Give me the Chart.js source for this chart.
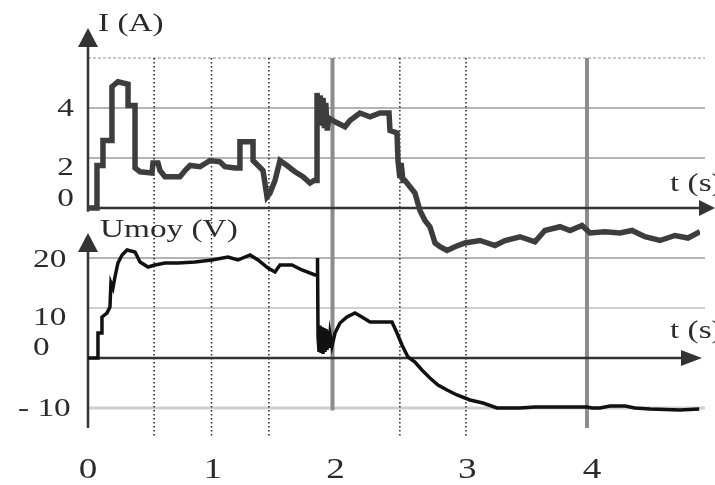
<!DOCTYPE html>
<html>
<head>
<meta charset="utf-8">
<script src="https://cdn.jsdelivr.net/npm/chart.js@4.4.1/dist/chart.umd.min.js"></script>
<style>
  html, body { margin: 0; padding: 0; background: #fff; }
  #wrap { width: 715px; height: 485px; }
</style>
</head>
<body>
<div id="wrap"><canvas id="chart" width="715" height="485"></canvas></div>
<script>
// current I (A) against t (s)
const tI = [0, 0.072, 0.072, 0.12, 0.12, 0.192, 0.192, 0.24, 0.321, 0.321, 0.377, 0.377, 0.417, 0.513, 0.521, 0.561,
  0.577, 0.617, 0.737, 0.778, 0.818, 0.898, 0.978, 1.058, 1.098, 1.178, 1.218, 1.218, 1.323, 1.323, 1.363, 1.403,
  1.435, 1.459, 1.499, 1.539, 1.595, 1.659, 1.723, 1.78, 1.812, 1.836, 1.836, 1.852, 1.862, 1.874, 1.884, 1.896,
  1.906, 1.918, 1.93, 1.98, 2.06, 2.1, 2.18, 2.261, 2.341, 2.413, 2.421, 2.477, 2.485, 2.5, 2.51, 2.525, 2.541,
  2.581, 2.621, 2.661, 2.701, 2.741, 2.782, 2.822, 2.878, 2.942, 3.022, 3.142, 3.263, 3.343, 3.463, 3.583,
  3.663, 3.784, 3.864, 3.96, 4.024, 4.144, 4.265, 4.361, 4.465, 4.585, 4.705, 4.81, 4.906];
const iVals = [0, 0, 1.7, 1.7, 2.7, 2.7, 4.85, 5.05, 4.95, 4.1, 4.1, 1.6, 1.45, 1.4, 1.8, 1.8,
  1.5, 1.25, 1.25, 1.5, 1.7, 1.65, 1.9, 1.85, 1.65, 1.6, 1.6, 2.65, 2.65, 1.9, 1.7, 1.5,
  0.45, 0.6, 1.1, 1.9, 1.7, 1.45, 1.25, 1.0, 1.1, 1.1, 4.6, 3.4, 4.5, 3.3, 4.4, 3.2,
  4.2, 3.1, 3.6, 3.45, 3.25, 3.5, 3.8, 3.65, 3.8, 3.8, 3.1, 3.0, 1.9, 1.2, 1.8, 1.1, 1.1,
  0.85, 0.6, -0.1, -0.5, -0.75, -1.4, -1.55, -1.7, -1.55, -1.4, -1.3, -1.5, -1.3, -1.15, -1.35,
  -0.9, -0.75, -0.9, -0.7, -1.0, -0.95, -1.0, -0.9, -1.15, -1.3, -1.1, -1.2, -0.95];

// mean voltage Umoy (V) against t (s)
const tU = [0, 0.08, 0.08, 0.112, 0.112, 0.152, 0.176, 0.184, 0.2, 0.216, 0.24, 0.273, 0.313, 0.377, 0.417,
  0.481, 0.537, 0.617, 0.721, 0.858, 0.994, 1.122, 1.202, 1.299, 1.363, 1.443, 1.499, 1.539, 1.635, 1.715,
  1.82, 1.836, 1.84, 1.844, 1.852, 1.86, 1.868, 1.876, 1.884, 1.892, 1.9, 1.908, 1.916, 1.924, 1.932, 1.94,
  1.956, 1.98, 2.02, 2.076, 2.14, 2.196, 2.261, 2.437, 2.477, 2.517, 2.565, 2.621, 2.677, 2.741, 2.806,
  2.878, 2.958, 3.062, 3.166, 3.279, 3.463, 3.583, 3.904, 4.0, 4.04, 4.104, 4.184, 4.305, 4.385, 4.505,
  4.746, 4.9];
const uVals = [0, 0, 5, 5, 8.2, 9, 10.2, 15, 14, 16.2, 19, 20.6, 21.6, 21.2, 19.2,
  18.2, 18.6, 19, 19, 19.2, 19.6, 20.2, 19.6, 20.6, 19.6, 18, 17.2, 18.6, 18.6, 17.6,
  16.6, 16.6, 20, 4.2, 1.2, 6.5, 1.0, 6.2, 0.8, 6, 1.2, 5.8, 1.6, 5.5, 2.0, 4.8,
  2.4, 5, 7, 8.2, 9, 8.2, 7.2, 7.2, 5, 2.6, 0.2, -0.8, -2.4, -4, -5.4,
  -6.4, -7.4, -8.4, -9, -10, -10, -9.8, -9.8, -9.8, -10, -10, -9.6, -9.6, -10, -10.2,
  -10.4, -10.2];

const tTicks = [0, 1, 2, 3, 4];
const iTicks = [4, 2, 0];
const uTicks = [20, 10, 0, -10];
const iGrid = [6, 4, 2];
const uGrid = [20, 10, -10];
const dottedT = [0.53, 0.99, 1.45, 2.5, 3.03];
const thickT = [1.96, 4.0];

const serif = '"Liberation Serif", "DejaVu Serif", serif';
const ink = '#2b2b2b';
const stretch = 1.28; // the scanned lettering is wider than the font

function arrow(ctx, tipX, tipY, dir, len, half) {
  ctx.beginPath();
  if (dir === 'up') {
    ctx.moveTo(tipX, tipY);
    ctx.lineTo(tipX - half, tipY + len);
    ctx.lineTo(tipX + half, tipY + len);
  } else {
    ctx.moveTo(tipX, tipY);
    ctx.lineTo(tipX - len, tipY - half);
    ctx.lineTo(tipX - len, tipY + half);
  }
  ctx.closePath();
  ctx.fill();
}

function hline(ctx, y, x0, x1) {
  ctx.beginPath();
  ctx.moveTo(x0, y);
  ctx.lineTo(x1, y);
  ctx.stroke();
}

function vline(ctx, x, y0, y1) {
  ctx.beginPath();
  ctx.moveTo(x, y0);
  ctx.lineTo(x, y1);
  ctx.stroke();
}

// draw text stretched horizontally, anchored at x by align
function text(ctx, str, x, y, align) {
  const w = ctx.measureText(str).width * stretch;
  let left = x;
  if (align === 'right') left = x - w;
  if (align === 'center') left = x - w / 2;
  ctx.save();
  ctx.translate(left, y);
  ctx.scale(stretch, 1);
  ctx.textAlign = 'left';
  ctx.fillText(str, 0, 0);
  ctx.restore();
}

const sketch = {
  id: 'sketch',
  beforeDatasetsDraw(chart) {
    const { ctx, chartArea: a, scales: { x, yI, yU } } = chart;
    const x0 = x.getPixelForValue(0);
    const gridEnd = a.right + 5;
    ctx.save();

    // horizontal grid
    ctx.strokeStyle = '#b4b4b4';
    iGrid.forEach(v => {
      ctx.lineWidth = v === 6 ? 1.5 : 2;
      ctx.setLineDash(v === 6 ? [3, 2] : []);
      hline(ctx, yI.getPixelForValue(v), x0, gridEnd);
    });
    ctx.setLineDash([]);
    uGrid.forEach(v => {
      ctx.strokeStyle = v === 20 ? '#b4b4b4' : '#cfcfcf';
      ctx.lineWidth = v === -10 ? 3 : 2;
      hline(ctx, yU.getPixelForValue(v), x0, gridEnd);
    });

    // dotted verticals
    ctx.strokeStyle = '#222';
    ctx.lineWidth = 1.5;
    ctx.setLineDash([1.5, 2.5]);
    dottedT.forEach(t => vline(ctx, x.getPixelForValue(t), yI.getPixelForValue(6), a.bottom));
    ctx.setLineDash([]);

    // thick grey verticals
    ctx.strokeStyle = '#8c8c8c';
    ctx.lineWidth = 4;
    const ends = [-10.5, -14];
    thickT.forEach((t, k) => vline(ctx, x.getPixelForValue(t), yI.getPixelForValue(6), yU.getPixelForValue(ends[k])));

    // axes with arrows
    ctx.strokeStyle = '#333';
    ctx.fillStyle = '#333';
    ctx.lineWidth = 2.5;
    const iTop = yI.getPixelForValue(6);
    vline(ctx, x0, iTop - 12, yI.getPixelForValue(-0.15));
    arrow(ctx, x0, iTop - 30, 'up', 19, 10);
    const iZero = yI.getPixelForValue(0);
    hline(ctx, iZero, x0, a.right);
    arrow(ctx, a.right + 15, iZero, 'right', 16, 8);

    const uZero = yU.getPixelForValue(0);
    vline(ctx, x0, yU.getPixelForValue(22), yU.getPixelForValue(-14));
    arrow(ctx, x0, yU.getPixelForValue(25), 'up', 19, 10);
    hline(ctx, uZero, x0, a.right - 18);
    arrow(ctx, a.right + 2, uZero, 'right', 21, 8);

    ctx.restore();
  },
  afterDraw(chart) {
    const { ctx, scales: { x, yI, yU } } = chart;
    ctx.save();
    ctx.fillStyle = ink;
    ctx.textBaseline = 'middle';

    // axis titles
    ctx.font = '26px ' + serif;
    text(ctx, 'I (A)', 98, 24, 'left');
    text(ctx, 'Umoy (V)', 100, 230, 'left');
    text(ctx, 't (s)', 670, yI.getPixelForValue(0) - 24, 'left');
    text(ctx, 't (s)', 670, yU.getPixelForValue(0) - 27, 'left');

    // I ticks
    const iNudge = { 4: 1, 2: 10, 0: -9 };
    iTicks.forEach(v => text(ctx, String(v), 74, yI.getPixelForValue(v) + iNudge[v], 'right'));

    // Umoy ticks
    const uNudge = { 20: 2, 10: 10, 0: -10, '-10': 1 };
    uTicks.forEach(v => {
      const txt = v < 0 ? '- ' + Math.abs(v) : String(v);
      text(ctx, txt, v < 0 ? 18 : 33, yU.getPixelForValue(v) + uNudge[v], 'left');
    });

    // t ticks
    const tNudge = [0, 0, -2, 5, 5];
    ctx.font = '29px ' + serif;
    tTicks.forEach((t, k) => text(ctx, String(t), x.getPixelForValue(t) + tNudge[k], 470, 'center'));

    ctx.restore();
  }
};

new Chart(document.getElementById('chart'), {
  type: 'line',
  data: {
    datasets: [
      {
        label: 'I',
        data: tI.map((t, k) => ({ x: t, y: iVals[k] })),
        xAxisID: 'x',
        yAxisID: 'yI',
        borderColor: '#3d3d3d',
        borderWidth: 5.5,
        pointRadius: 0,
        tension: 0,
        fill: false
      },
      {
        label: 'Umoy',
        data: tU.map((t, k) => ({ x: t, y: uVals[k] })),
        xAxisID: 'x',
        yAxisID: 'yU',
        borderColor: '#111',
        borderWidth: 3.5,
        pointRadius: 0,
        tension: 0,
        fill: false
      }
    ]
  },
  options: {
    responsive: false,
    animation: false,
    devicePixelRatio: 1,
    layout: { padding: { left: 88, right: 15, top: 58, bottom: 48 } },
    plugins: { legend: { display: false }, tooltip: { enabled: false } },
    scales: {
      x: { type: 'linear', min: 0, max: 4.906, display: false },
      yI: { type: 'linear', min: -9.16, max: 6, display: false },
      yU: { type: 'linear', min: -15.8, max: 60, display: false }
    }
  },
  plugins: [sketch]
});
</script>
</body>
</html>
